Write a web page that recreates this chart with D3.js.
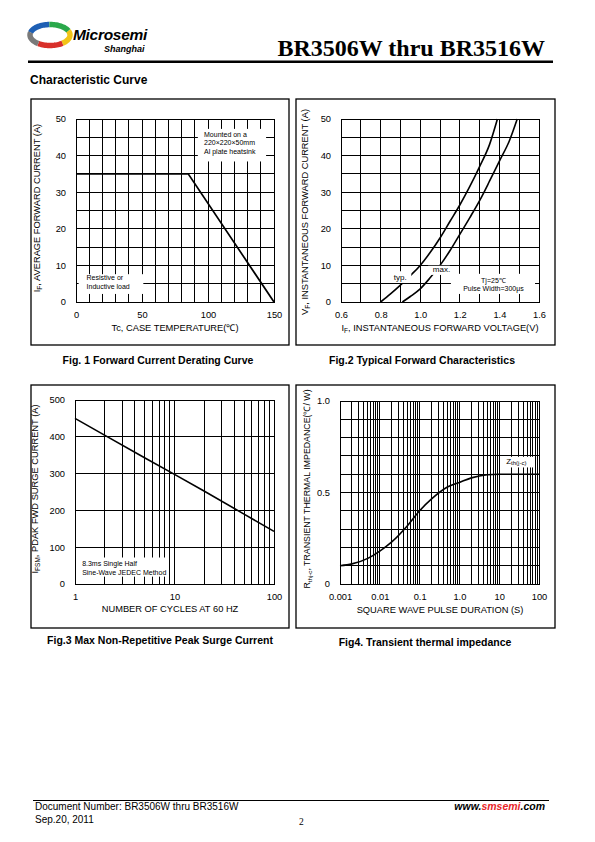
<!DOCTYPE html>
<html><head><meta charset="utf-8">
<script src="https://cdn.jsdelivr.net/npm/d3@7"></script>
<style>
html,body{margin:0;padding:0;background:#fff;}
svg{display:block;}
text{font-family:"Liberation Sans",Arial,sans-serif;fill:#000;}
</style></head>
<body>
<svg id="page" width="595" height="842"></svg>
<script>
// ---------- DATA ----------
// Fig.1 Forward current derating
const fig1Temp = [0, 85, 150];
const fig1Current = [35, 35, 0];
const fig1XTicks = [0, 50, 100, 150];
const fig1YTicks = [0, 10, 20, 30, 40, 50];

// Fig.2 Typical forward characteristics
const fig2TypV = [0.80, 0.85, 0.90, 0.95, 1.00, 1.05, 1.10, 1.15, 1.20, 1.25, 1.30, 1.35, 1.39];
const fig2TypI = [0, 2.2, 4.6, 7.2, 10, 13.5, 17.5, 22, 26.5, 31.5, 37, 43, 50];
const fig2MaxV = [0.91, 0.95, 1.00, 1.05, 1.10, 1.15, 1.20, 1.25, 1.30, 1.35, 1.40, 1.45, 1.49];
const fig2MaxI = [0, 1.5, 3.6, 6.6, 10, 14, 18.5, 23, 27.7, 33, 38.5, 44, 50];
const fig2XTicks = [0.6, 0.8, 1.0, 1.2, 1.4, 1.6];
const fig2XLabels = ["0.6", "0.8", "1.0", "1.2", "1.4", "1.6"];
const fig2YTicks = [0, 10, 20, 30, 40, 50];

// Fig.3 Surge current
const fig3Cycles = [1, 2, 5, 10, 20, 50, 100];
const fig3Current = [450, 404, 343, 298, 252, 190, 143];
const fig3XTicks = [1, 10, 100];
const fig3YTicks = [0, 100, 200, 300, 400, 500];

// Fig.4 Transient thermal impedance
const fig4Duration = [0.001, 0.002, 0.005, 0.01, 0.02, 0.05, 0.1, 0.2, 0.5, 1, 2, 5, 10, 100];
const fig4Z = [0.10, 0.11, 0.14, 0.18, 0.23, 0.32, 0.40, 0.465, 0.53, 0.555, 0.58, 0.597, 0.60, 0.60];
const fig4XTicks = [0.001, 0.01, 0.1, 1, 10, 100];
const fig4XLabels = ["0.001", "0.01", "0.1", "1.0", "10", "100"];
const fig4YTicks = [0, 0.5, 1.0];
const fig4YLabels = ["0", "0.5", "1.0"];

// ---------- PAGE ----------
const svg = d3.select("#page");

// Logo
const logo = svg.append("g");
const arcs = [
  {c:"#1e5fb4", a0:-2.9, a1:-1.6},
  {c:"#2aa84a", a0:-1.6, a1:-0.4},
  {c:"#f2c417", a0:-0.4, a1:0.9},
  {c:"#d8302a", a0:0.9, a1:2.2},
  {c:"#7a7a7a", a0:2.2, a1:3.4}
];
arcs.forEach(s => {
  const cx = 50, cy = 35, rx = 20, ry = 10.5;
  const pts = d3.range(0, 21).map(i => {
    const t = s.a0 + (s.a1 - s.a0) * i / 20;
    return [cx + rx * Math.cos(t), cy + ry * Math.sin(t)];
  });
  logo.append("path").attr("d", d3.line()(pts)).attr("fill", "none")
    .attr("stroke", s.c).attr("stroke-width", 5.5);
});
logo.append("text").attr("x", 73).attr("y", 40).attr("font-size", 15.5)
  .attr("font-weight", "bold").attr("font-style", "italic").attr("fill", "#111")
  .style("letter-spacing", "-0.3px").text("Microsemi");
logo.append("text").attr("x", 104).attr("y", 51.5).attr("font-size", 9)
  .attr("font-weight", "bold").attr("font-style", "italic").attr("fill", "#111").text("Shanghai");

svg.append("text").attr("x", 545).attr("y", 56).attr("text-anchor", "end")
  .style("font-family", "'Liberation Serif','Times New Roman',serif")
  .attr("font-size", 24).attr("font-weight", "bold").text("BR3506W thru BR3516W");
svg.append("rect").attr("x", 28).attr("y", 60.5).attr("width", 525).attr("height", 2.5).attr("fill", "#000");

svg.append("text").attr("x", 30).attr("y", 84).attr("font-size", 12).attr("font-weight", "bold")
  .text("Characteristic Curve");

// Footer
svg.append("line").attr("x1", 33).attr("x2", 549).attr("y1", 800.5).attr("y2", 800.5)
  .attr("stroke", "#000").attr("stroke-width", 1);
svg.append("text").attr("x", 35).attr("y", 810).attr("font-size", 10)
  .text("Document Number: BR3506W thru BR3516W");
svg.append("text").attr("x", 35).attr("y", 823).attr("font-size", 10).text("Sep.20, 2011");
svg.append("text").attr("x", 299).attr("y", 825).attr("font-size", 9.5)
  .style("font-family", "'Liberation Serif','Times New Roman',serif").text("2");
const www = svg.append("text").attr("x", 545).attr("y", 810).attr("text-anchor", "end")
  .attr("font-size", 10.5).attr("font-weight", "bold").attr("font-style", "italic");
www.append("tspan").text("www.");
www.append("tspan").attr("fill", "#e8262a").style("fill", "#e8262a").text("smsemi");
www.append("tspan").text(".com");

// ---------- helpers ----------
function frame(f) {
  svg.append("rect").attr("x", f.x).attr("y", f.y).attr("width", f.w).attr("height", f.h)
    .attr("fill", "none").attr("stroke", "#000").attr("stroke-width", 1.3);
}
function grid(g, x, y, xs, ys) {
  const gg = g.append("g").attr("shape-rendering", "crispEdges");
  const [x0, x1] = x.range(), [y0, y1] = y.range();
  xs.forEach(v => gg.append("line").attr("x1", x(v)).attr("x2", x(v)).attr("y1", y0).attr("y2", y1)
    .attr("stroke", "#000").attr("stroke-width", 1));
  ys.forEach(v => gg.append("line").attr("y1", y(v)).attr("y2", y(v)).attr("x1", x0).attr("x2", x1)
    .attr("stroke", "#000").attr("stroke-width", 1));
}
function axes(g, x, y, xt, xl, yt, yl) {
  const ax = g.append("g").attr("transform", `translate(0,${y.range()[0]})`)
    .call(d3.axisBottom(x).tickValues(xt).tickSize(0).tickPadding(9).tickFormat((d, i) => xl[i]));
  ax.select(".domain").remove();
  ax.selectAll("text").attr("font-size", 9.3).style("font-family", "'Liberation Sans',Arial,sans-serif");
  const ay = g.append("g").attr("transform", `translate(${x.range()[0]},0)`)
    .call(d3.axisLeft(y).tickValues(yt).tickSize(0).tickPadding(10).tickFormat((d, i) => yl[i]));
  ay.select(".domain").remove();
  ay.selectAll("text").attr("font-size", 9.3).style("font-family", "'Liberation Sans',Arial,sans-serif");
}
function plotBorder(g, x, y) {
  const [x0, x1] = x.range(), [y0, y1] = y.range();
  g.append("rect").attr("x", x0).attr("y", y1).attr("width", x1 - x0).attr("height", y0 - y1)
    .attr("fill", "none").attr("stroke", "#000").attr("stroke-width", 1).attr("shape-rendering", "crispEdges");
}
function richText(g, x, y, parts, size, rotate) {
  const t = g.append("text").attr("font-size", size).attr("text-anchor", "middle")
    .attr("transform", rotate ? `translate(${x},${y}) rotate(-90)` : `translate(${x},${y})`);
  parts.forEach(p => {
    const s = t.append("tspan").text(p.t);
    if (p.sub) s.attr("font-size", size * 0.7).attr("dy", 2);
    if (p.back) s.attr("dy", -2);
  });
  return t;
}
function whiteBox(g, x, y, xa, xb, ya, yb) {
  g.append("rect").attr("x", Math.min(x(xa), x(xb))).attr("y", Math.min(y(ya), y(yb)))
    .attr("width", Math.abs(x(xb) - x(xa))).attr("height", Math.abs(y(yb) - y(ya)))
    .attr("fill", "#fff");
}
function caption(x, y, s) {
  svg.append("text").attr("x", x).attr("y", y).attr("text-anchor", "middle")
    .attr("font-size", 10.5).attr("font-weight", "bold").text(s);
}

// ---------- Fig 1 ----------
{
  frame({x: 31, y: 99, w: 258, h: 246});
  const g = svg.append("g");
  const x = d3.scaleLinear().domain([0, 150]).range([76, 274]);
  const y = d3.scaleLinear().domain([0, 50]).range([302, 119]);
  grid(g, x, y, d3.range(0, 151, 10), d3.range(0, 51, 5));
  whiteBox(g, x, y, 92.3, 144, 47.3, 38.4);
  whiteBox(g, x, y, 2, 51, 7.6, 2.2);
  plotBorder(g, x, y);
  g.append("path").datum(fig1Temp.map((t, i) => [t, fig1Current[i]]))
    .attr("d", d3.line().x(d => x(d[0])).y(d => y(d[1])))
    .attr("fill", "none").attr("stroke", "#000").attr("stroke-width", 1.7);
  axes(g, x, y, fig1XTicks, fig1XTicks.map(String), fig1YTicks, fig1YTicks.map(String));
  const ann = g.append("text").attr("font-size", 7);
  ["Mounted on a", "220×220×50mm", "Al plate heatsink"].forEach((s, i) =>
    ann.append("tspan").attr("x", x(97)).attr("y", y(45.2) + i * 8.5).text(s));
  const ann2 = g.append("text").attr("font-size", 7);
  ["Resistive or", "Inductive load"].forEach((s, i) =>
    ann2.append("tspan").attr("x", x(8)).attr("y", y(5.9) + i * 8.8).text(s));
  richText(g, 40, 208, [{t: "I"}, {t: "F", sub: true}, {t: ", AVERAGE FORWARD CURRENT (A)", back: true}], 9.3, true);
  richText(g, 175, 331, [{t: "Tc"}, {t: ",  CASE TEMPERATURE(℃)"}], 9.3, false);
  caption(158, 364, "Fig. 1 Forward Current Derating Curve");
}

// ---------- Fig 2 ----------
{
  frame({x: 296, y: 99, w: 259, h: 246});
  const g = svg.append("g");
  const x = d3.scaleLinear().domain([0.6, 1.6]).range([341, 539]);
  const y = d3.scaleLinear().domain([0, 50]).range([302, 119]);
  grid(g, x, y, d3.range(0, 11).map(i => 0.6 + i * 0.1), d3.range(0, 51, 5));
  const line = d3.line().x(d => x(d[0])).y(d => y(d[1])).curve(d3.curveMonotoneX);
  g.append("path").datum(fig2TypV.map((v, i) => [v, fig2TypI[i]])).attr("d", line)
    .attr("fill", "none").attr("stroke", "#000").attr("stroke-width", 1.6);
  g.append("path").datum(fig2MaxV.map((v, i) => [v, fig2MaxI[i]])).attr("d", line)
    .attr("fill", "none").attr("stroke", "#000").attr("stroke-width", 1.6);
  whiteBox(g, x, y, 0.835, 0.955, 8.4, 5.2);
  whiteBox(g, x, y, 1.04, 1.15, 9.9, 7.4);
  whiteBox(g, x, y, 1.155, 1.58, 7.7, 2.2);
  plotBorder(g, x, y);
  axes(g, x, y, fig2XTicks, fig2XLabels, fig2YTicks, fig2YTicks.map(String));
  g.append("text").attr("x", x(0.867)).attr("y", y(6.1)).attr("font-size", 8).text("typ.");
  g.append("text").attr("x", x(1.064)).attr("y", y(8.2)).attr("font-size", 8).text("max.");
  g.append("text").attr("x", x(1.37)).attr("y", y(5.3)).attr("font-size", 7).attr("text-anchor", "middle").text("Tj=25℃");
  g.append("text").attr("x", x(1.37)).attr("y", y(2.9)).attr("font-size", 7).attr("text-anchor", "middle").text("Pulse Width=300μs");
  richText(g, 308, 212, [{t: "V"}, {t: "F", sub: true}, {t: ", INSTANTANEOUS FORWARD CURRENT (A)", back: true}], 9.3, true);
  richText(g, 440, 331, [{t: "I"}, {t: "F", sub: true}, {t: ",  INSTANTANEOUS FORWARD VOLTAGE(V)", back: true}], 9.3, false);
  caption(422, 364, "Fig.2 Typical Forward Characteristics");
}

// ---------- Fig 3 ----------
{
  frame({x: 31, y: 385, w: 258, h: 243});
  const g = svg.append("g");
  const x = d3.scaleLog().domain([1, 100]).range([75, 274]);
  const y = d3.scaleLinear().domain([0, 500]).range([584, 400]);
  const xs = d3.range(1, 10).concat(d3.range(10, 101, 10));
  grid(g, x, y, xs, d3.range(0, 501, 100));
  whiteBox(g, x, y, 1.08, 8.6, 72, 20);
  plotBorder(g, x, y);
  g.append("path").datum(fig3Cycles.map((c, i) => [c, fig3Current[i]]))
    .attr("d", d3.line().x(d => x(d[0])).y(d => y(d[1])))
    .attr("fill", "none").attr("stroke", "#000").attr("stroke-width", 1.6);
  axes(g, x, y, fig3XTicks, fig3XTicks.map(String), fig3YTicks, fig3YTicks.map(String));
  const ann = g.append("text").attr("font-size", 7);
  ["8.3ms Single Half", "Sine-Wave JEDEC Method"].forEach((s, i) =>
    ann.append("tspan").attr("x", x(1.18)).attr("y", y(50) + i * 9.5).text(s));
  richText(g, 38, 489, [{t: "I"}, {t: "FSM", sub: true}, {t: ", PDAK FWD SURGE CURRENT (A)", back: true}], 9.3, true);
  richText(g, 170, 612, [{t: "NUMBER OF CYCLES AT 60 HZ"}], 9.3, false);
  caption(160, 644, "Fig.3 Max Non-Repetitive Peak Surge Current");
}

// ---------- Fig 4 ----------
{
  frame({x: 296, y: 385, w: 259, h: 243});
  const g = svg.append("g");
  const x = d3.scaleLog().domain([0.001, 100]).range([340, 539]);
  const y = d3.scaleLinear().domain([0, 1]).range([584, 401]);
  const xs = [];
  [0.001, 0.01, 0.1, 1, 10].forEach(dec => d3.range(1, 10).forEach(k => xs.push(dec * k)));
  xs.push(100);
  grid(g, x, y, xs, d3.range(0, 11).map(i => i / 10));
  g.append("path").datum(fig4Duration.map((d, i) => [d, fig4Z[i]]))
    .attr("d", d3.line().x(d => x(d[0])).y(d => y(d[1])).curve(d3.curveMonotoneX))
    .attr("fill", "none").attr("stroke", "#000").attr("stroke-width", 1.6);
  whiteBox(g, x, y, 14, 76, 0.695, 0.637);
  plotBorder(g, x, y);
  axes(g, x, y, fig4XTicks, fig4XLabels, fig4YTicks, fig4YLabels);
  const z = g.append("text").attr("x", x(15)).attr("y", y(0.655)).attr("font-size", 8);
  z.append("tspan").text("Z");
  z.append("tspan").attr("font-size", 6).attr("dy", 1).text("th(j-c)");
  richText(g, 310, 489, [{t: "R"}, {t: "thj-c", sub: true}, {t: ", TRANSIENT THERMAL IMPEDANCE(℃/ W)", back: true}], 8.8, true);
  richText(g, 440, 613, [{t: "SQUARE WAVE PULSE DURATION (S)"}], 9.3, false);
  caption(425, 646, "Fig4. Transient thermal impedance");
}
</script>
</body></html>
